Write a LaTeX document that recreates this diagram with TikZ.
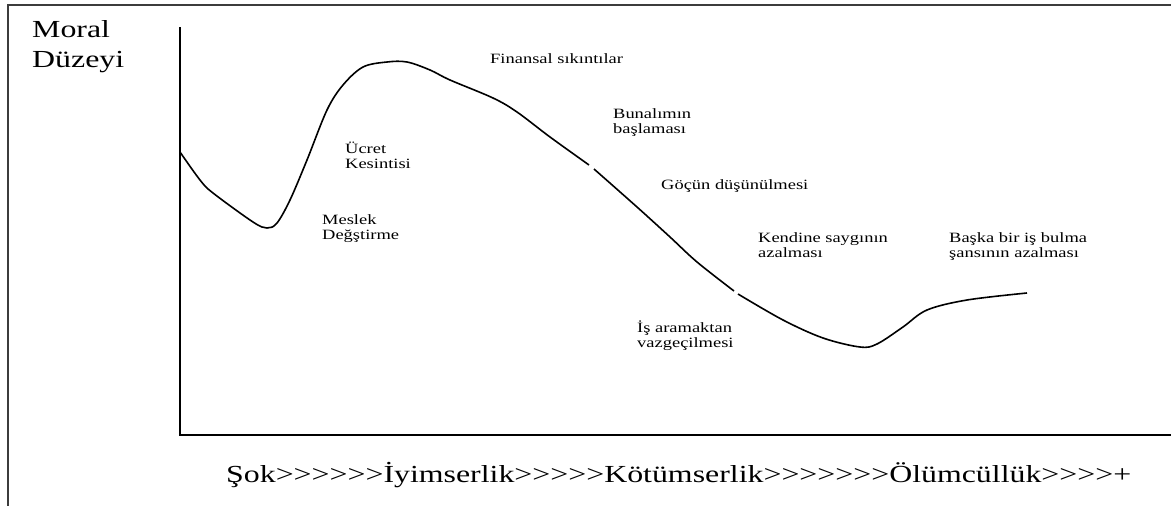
\documentclass[tikz,border=0pt]{standalone}
\usepackage{fontspec}
\usepackage{tikz}
\usetikzlibrary{positioning, calc}
\newfontfamily\chartfont[FakeStretch=1.3]{Liberation Serif}
\definecolor{framegray}{RGB}{60,60,60}

\begin{document}
\begin{tikzpicture}[
  x=1pt, y=-1pt,
  frame/.style={line width=2.4pt, color=framegray},
  axis/.style={line width=2pt, color=black},
  curve/.style={line width=1.6pt, color=black, smooth, tension=0.55},
  lbl/.style={inner sep=0pt, anchor=base west, align=left,
              font=\chartfont\fontsize{14.2}{14.8}\selectfont},
  bigtxt/.style={inner sep=0pt, anchor=base west, align=left,
                 font=\chartfont\fontsize{24.5}{29.5}\selectfont}
]
  \useasboundingbox[fill=white] (0,0) rectangle (1171,506);
  \draw[frame] (8,506) -- (8,5) -- (1171,5);
  \coordinate (ytop) at (180,27);
  \coordinate (orig) at (180,435);
  \coordinate (xend) at (1171,435);
  \draw[axis] (ytop) -- (orig) -- (xend);

  \node[bigtxt] (moral) at (32,67) {Moral\\Düzeyi};

  \draw[curve] plot coordinates {(180,152) (200,180) (213,193) (253,222) (267,228)
    (277,223) (290,200) (307,160) (327,110) (343,85) (363,67) (387,62) (407,62)
    (430,70) (450,80) (493,98) (517,112) (550,137) (589,165)};
  \draw[curve] plot coordinates {(594,169) (637,207) (670,237) (697,262) (734,291)};
  \draw[curve] plot coordinates {(738,294) (783,320) (823,338) (860,347) (877,344)
    (903,327) (927,310) (967,300) (1027,293)};

  \node[lbl] (ucret)   at (345,168) {Ücret\\Kesintisi};
  \node[lbl] (meslek)  at (322,239) {Meslek\\Değştirme};
  \node[lbl] (finans)  at (490,63)  {Finansal sıkıntılar};
  \node[lbl] (bunalim) at (613,133) {Bunalımın\\başlaması};
  \node[lbl] (gocun)   at (661,189) {Göçün düşünülmesi};
  \node[lbl] (saygi)   at (758,257) {Kendine saygının\\azalması};
  \node[lbl] (sans)    at (949,257) {Başka bir iş bulma\\şansının azalması};
  \node[lbl] (isara)   at (637,347) {İş aramaktan\\vazgeçilmesi};

  \node[bigtxt] (evre) at (226,482)
    {Şok>>>>>>İyimserlik>>>>>Kötümserlik>>>>>>>Ölümcüllük>>>>+};
\end{tikzpicture}
\end{document}
